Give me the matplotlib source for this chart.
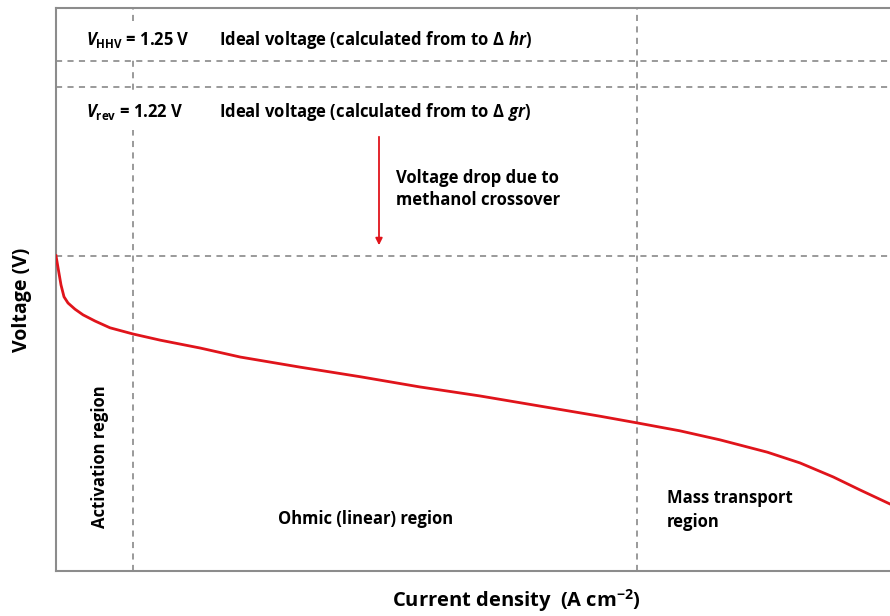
import numpy as np
import matplotlib
matplotlib.use('Agg')
import matplotlib.pyplot as plt

plt.rcParams['font.family'] = ['Open Sans', 'DejaVu Sans']
plt.rcParams['mathtext.fontset'] = 'custom'
plt.rcParams['mathtext.rm'] = 'Open Sans:bold'
plt.rcParams['mathtext.it'] = 'Open Sans:italic:bold'
plt.rcParams['mathtext.bf'] = 'Open Sans:bold'

# polarisation curve, normalised axes (0..1)
current = [0.0, 0.0024, 0.006, 0.0096, 0.0144, 0.0228, 0.0324, 0.0468,
           0.0647, 0.0923, 0.125, 0.173, 0.221, 0.293, 0.365, 0.436,
           0.508, 0.580, 0.652, 0.697, 0.748, 0.796, 0.853, 0.892,
           0.932, 0.964, 1.0]
voltage = [0.560, 0.539, 0.508, 0.487, 0.476, 0.465, 0.455, 0.444,
           0.432, 0.421, 0.410, 0.396, 0.380, 0.362, 0.345, 0.327,
           0.311, 0.293, 0.275, 0.263, 0.249, 0.233, 0.211, 0.192,
           0.167, 0.144, 0.119]

hhv_level = 0.906     # V_HHV line
rev_level = 0.860     # V_rev line
ocv_level = 0.5595    # actual open-circuit voltage
region_bounds = [0.0923, 0.697]

W, H = 890, 616
fig = plt.figure(figsize=(W / 100, H / 100), dpi=100)
ax = fig.add_axes([56 / W, 45 / H, 1 - 56 / W, 563 / H])
ax.set_xlim(0, 1)
ax.set_ylim(0, 1)
ax.set_xticks([])
ax.set_yticks([])
for s in ['left', 'top', 'bottom']:
    ax.spines[s].set_color('#8c8c8c')
    ax.spines[s].set_linewidth(1.5)
ax.spines['right'].set_visible(False)

dash = dict(color='#7f7f7f', lw=1.1, ls=(0, (4, 3.5)), zorder=1)
for yl in [hhv_level, rev_level, ocv_level]:
    ax.axhline(yl, **dash)
for xl in region_bounds:
    ax.axvline(xl, **dash)

ax.plot(current, voltage, color='#e0141b', lw=2, zorder=3,
        solid_joinstyle='round')

def px(x):
    return (x - 56) / 834

def py(y):
    return (571 - y) / 563

box = dict(facecolor='white', edgecolor='none', pad=6)
fs = 12
ax.text(px(86), py(40), r'$V_{\mathrm{HHV}}$ = 1.25 V', fontsize=fs, fontweight='bold',
        va='center', ha='left', bbox=box, zorder=4)
ax.text(px(219), py(40), r'Ideal voltage (calculated from to $\Delta\ hr$)', fontsize=fs,
        fontweight='bold', va='center', ha='left', bbox=box, zorder=4)
ax.text(px(86), py(112), r'$V_{\mathrm{rev}}$ = 1.22 V', fontsize=fs, fontweight='bold',
        va='center', ha='left', bbox=box, zorder=4)
ax.text(px(219), py(112), r'Ideal voltage (calculated from to $\Delta\ gr$)', fontsize=fs,
        fontweight='bold', va='center', ha='left', bbox=box, zorder=4)

ax.annotate('', xy=(px(379), py(248)), xytext=(px(379), py(134)),
            arrowprops=dict(arrowstyle='-|>', color='#e0141b', lw=1.3,
                            mutation_scale=10), zorder=4)
ax.text(px(396), py(189), 'Voltage drop due to\nmethanol crossover', fontsize=fs,
        fontweight='bold', va='center', ha='left', linespacing=1.35)

ax.text(px(100), py(457), 'Activation region', fontsize=fs, fontweight='bold',
        rotation=90, va='center', ha='center')
ax.text(px(366), py(519), 'Ohmic (linear) region', fontsize=fs, fontweight='bold',
        va='center', ha='center')
ax.text(px(667), py(510), 'Mass transport\nregion', fontsize=fs, fontweight='bold',
        va='center', ha='left', linespacing=1.4)

fig.text(22 / W, 1 - 300 / H, 'Voltage (V)', fontsize=14, fontweight='bold',
         rotation=90, va='center', ha='center')
fig.text(516 / W, 1 - 601 / H, r'Current density  (A cm$^{\mathbf{-2}}$)', fontsize=14.5,
         fontweight='bold', va='center', ha='center')

fig.savefig('out.png', dpi=100)
